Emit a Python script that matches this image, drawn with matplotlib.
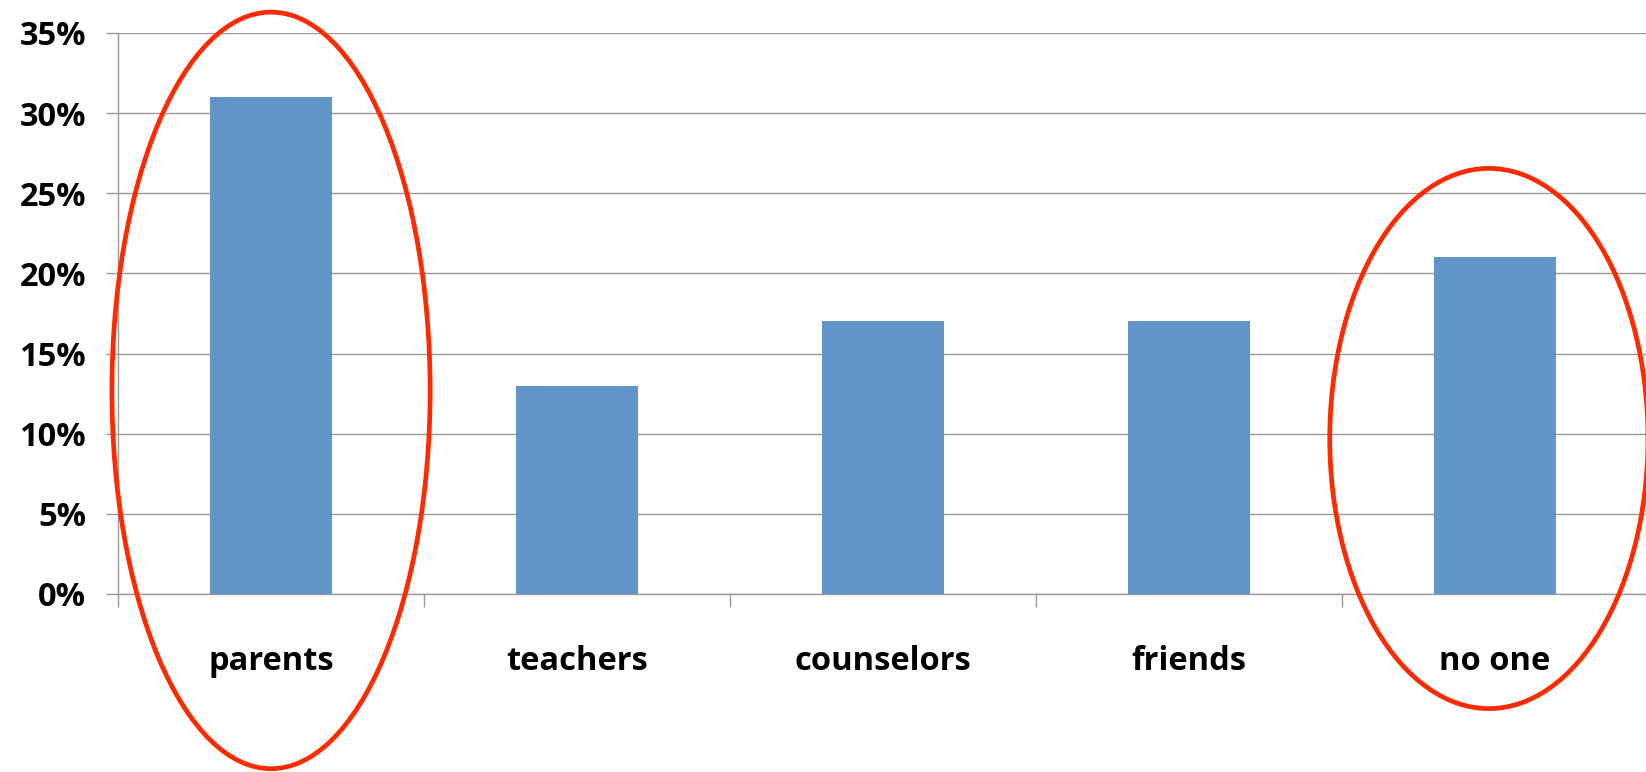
import matplotlib.pyplot as plt
from matplotlib.patches import Ellipse
from matplotlib.ticker import FixedLocator, PercentFormatter

plt.rcParams['font.family'] = ['Open Sans', 'DejaVu Sans']

categories = ['parents', 'teachers', 'counselors', 'friends', 'no one']
values = [31, 13, 17, 17, 21]
y_ticks = [0, 5, 10, 15, 20, 25, 30, 35]

# highlighted categories: (index, center y, height) in data units
highlights = [(0, 12.7, 47.2), (3.98, 9.7, 33.7)]

bar_color = '#6195C9'
grid_color = '#9a9a9a'
ring_color = '#FF2A00'

fig = plt.figure(figsize=(16.46, 7.72), dpi=100)
ax = fig.add_axes([0.0717, 0.2306, 0.9295, 0.7267])

x = list(range(len(categories)))
ax.bar(x, values, width=0.4, color=bar_color, zorder=3)

ax.set_xlim(-0.5, len(categories) - 0.5)
ax.set_ylim(0, 35)
ax.set_yticks(y_ticks)
ax.yaxis.set_major_formatter(PercentFormatter(decimals=0))
ax.grid(axis='y', color=grid_color, linewidth=1.0, zorder=0)

ax.set_xticks(x)
ax.set_xticklabels(categories)
ax.xaxis.set_minor_locator(FixedLocator([i - 0.5 for i in range(len(categories) + 1)]))
ax.tick_params(axis='x', which='major', length=0, pad=37, labelsize=23.5)
ax.tick_params(axis='x', which='minor', length=9, width=1.0, color=grid_color, direction='out')
ax.tick_params(axis='y', length=9, width=1.0, color=grid_color, pad=14, labelsize=23.5)
for lbl in ax.get_xticklabels() + ax.get_yticklabels():
    lbl.set_fontweight('bold')

for side in ['top', 'right']:
    ax.spines[side].set_visible(False)
for side in ['left', 'bottom']:
    ax.spines[side].set_color(grid_color)
    ax.spines[side].set_linewidth(1.0)

for idx, cy, h in highlights:
    ax.add_patch(Ellipse((idx, cy), 1.04, h, fill=False, edgecolor=ring_color,
                         linewidth=3.4, clip_on=False, zorder=5))

fig.savefig('out.png', dpi=100)
